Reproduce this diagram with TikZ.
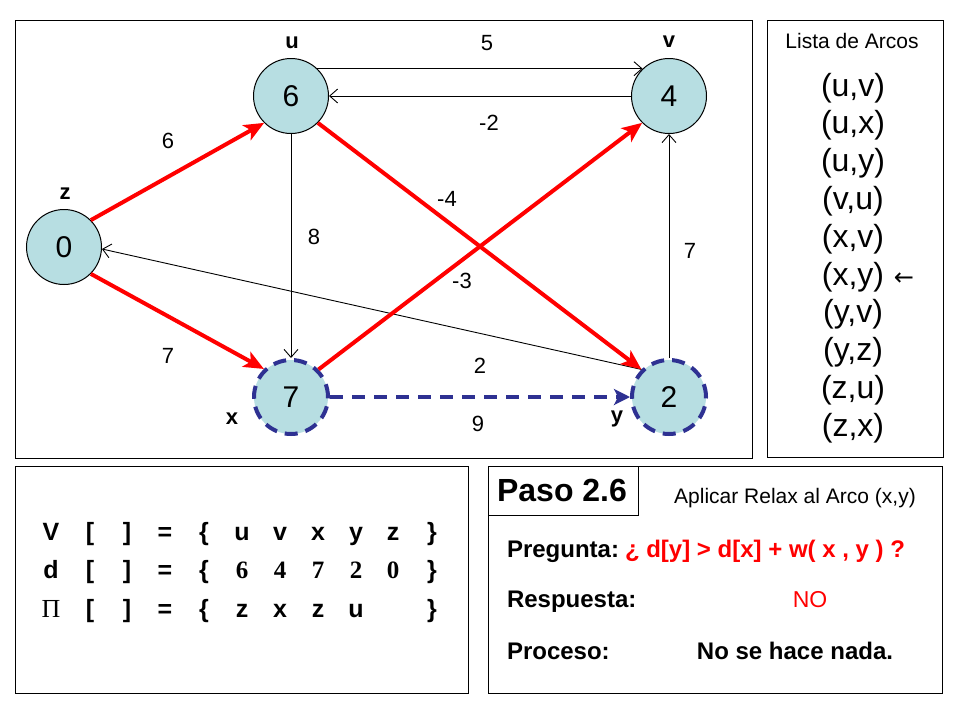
\documentclass[tikz,border=0pt]{standalone}
\usepackage{fontspec}
\setmainfont{Liberation Sans}
\newfontfamily\serifb{Liberation Serif}
\newfontfamily\djv{DejaVu Sans}
\usetikzlibrary{arrows.meta}
\definecolor{nodefill}{RGB}{183,222,226}
\definecolor{dblue}{RGB}{46,49,146}
\newcommand{\myfs}[1]{\fontsize{#1}{#1}\selectfont}
\tikzset{
  panel/.style={draw=black,line width=1pt},
  vert/.style={circle,draw=black,line width=1pt,fill=nodefill,minimum size=75pt,inner sep=0pt,font=\myfs{30}},
  vertd/.style={vert,draw=dblue,line width=4pt,dash pattern=on 13pt off 8pt,minimum size=74pt},
  txt/.style={anchor=base,inner sep=0pt,outer sep=0pt},
  thin/.style={draw=black,line width=0.9pt,-{Straight Barb[length=8pt,width=14pt]}},
  redarc/.style={draw=red,line width=4pt,-{Stealth[length=20pt,width=17pt,inset=5pt]}},
  bluearc/.style={draw=dblue,line width=4pt,dash pattern=on 13pt off 9pt,-{Stealth[length=16pt,width=16pt,inset=4pt]}},
  lab/.style={txt,font=\myfs{22}},
  blab/.style={txt,font=\myfs{22}\bfseries},
}
\begin{document}
\begin{tikzpicture}[x=1pt,y=-1pt]
\useasboundingbox (0,0) rectangle (960,720);
\fill[white] (0,0) rectangle (960,720);
% panels
\draw[panel] (15,20) rectangle (752,458);
\draw[panel] (767,20) rectangle (943,457);
\draw[panel] (15,466) rectangle (468,693);
\draw[panel] (488,466) rectangle (942,693);
\draw[panel] (488,466) rectangle (638,515);
% vertices
\node[vert] (u) at (291,96) {6};
\node[vert] (v) at (669,96) {4};
\node[vert] (z) at (64,247) {0};
\node[vertd] (x) at (291,397) {7};
\node[vertd] (y) at (669,397) {2};
% vertex names
\node[blab] (nu) at (292,48) {u};
\node[blab] (nv) at (669,47) {v};
\node[blab] (nz) at (65,199) {z};
\node[blab] (nx) at (232,424) {x};
\node[blab] (ny) at (617,422) {y};
% edges
\draw[thin] (u.46) -- (v.134);
\draw[thin] (v.180) -- (u.0);
\draw[thin] (u.south) -- (x.north);
\draw[thin] (y.north) -- (v.south);
\draw[thin] (y.135) -- (z.-3);
\draw[redarc] (z.45) -- (u.225);
\draw[redarc] (z.-45) -- (x.134);
\draw[redarc] (u.-45) -- (y.135);
\draw[redarc] (x.45) -- (v.-135);
\draw[bluearc] (x.east) -- (y.west);
% weights
\node[lab] (w1) at (487,50) {5};
\node[lab] (w2) at (489,130) {-2};
\node[lab] (w3) at (168,148) {6};
\node[lab] (w4) at (447,206) {-4};
\node[lab] (w5) at (314,244) {8};
\node[lab] (w6) at (690,258) {7};
\node[lab] (w7) at (462,288) {-3};
\node[lab] (w8) at (168,363) {7};
\node[lab] (w9) at (480,373) {2};
\node[lab] (w10) at (478,431) {9};
% list of arcs
\node[txt,font=\myfs{21}] (lt) at (852,48) {Lista de Arcos};
\foreach \t [count=\k from 0] in {(u{,}v),(u{,}x),(u{,}y),(v{,}u),(x{,}v),(x{,}y),(y{,}v),(y{,}z),(z{,}u),(z{,}x)}{
  \node[txt,font=\myfs{32}] (arc\k) at (853,96+37.8*\k) {\t};
}
\node[anchor=center,inner sep=0pt,font=\djv\myfs{24}] (cur) at (904,279) {←};
% table
\foreach \s/\xx [count=\i] in {V/51,{[}/90,{]}/127,=/165,\{/204,u/242,v/280,x/318,y/356,z/393,\}/432}{
  \node[txt,font=\myfs{25}\bfseries] (ra\i) at (\xx,540) {\s};
}
\foreach \s/\xx [count=\i] in {d/51,{[}/90,{]}/127,=/165,\{/204,\}/432}{
  \node[txt,font=\myfs{25}\bfseries] (rb\i) at (\xx,578) {\s};
}
\foreach \s/\xx [count=\i] in {6/242,4/280,7/318,2/356,0/393}{
  \node[txt,font=\serifb\myfs{25}\bfseries] (rd\i) at (\xx,578) {\s};
}
\node[txt,font=\serifb\myfs{26}] (rpi) at (51,617) {Π};
\foreach \s/\xx [count=\i] in {{[}/90,{]}/127,=/165,\{/204,z/242,x/280,z/318,u/356,\}/432}{
  \node[txt,font=\myfs{25}\bfseries] (rc\i) at (\xx,617) {\s};
}
% step panel
\node[txt,font=\myfs{32}\bfseries] (paso) at (562,501) {Paso 2.6};
\node[txt,font=\myfs{21}] (apl) at (795,503) {Aplicar Relax al Arco (x,y)};
\node[txt,anchor=base west,font=\myfs{24}\bfseries] (preg) at (507,557) {Pregunta:};
\node[txt,anchor=base west,font=\myfs{24}\bfseries,text=red] (pregq) at (625,557) {¿ d[y] > d[x] + w( x , y ) ?};
\node[txt,anchor=base west,font=\myfs{24}\bfseries] (resp) at (507,607) {Respuesta:};
\node[txt,font=\myfs{23},text=red] (no) at (810,607) {NO};
\node[txt,anchor=base west,font=\myfs{24}\bfseries] (proc) at (507,659) {Proceso:};
\node[txt,font=\myfs{24}\bfseries] (nada) at (795,659) {No se hace nada.};
\end{tikzpicture}
\end{document}
